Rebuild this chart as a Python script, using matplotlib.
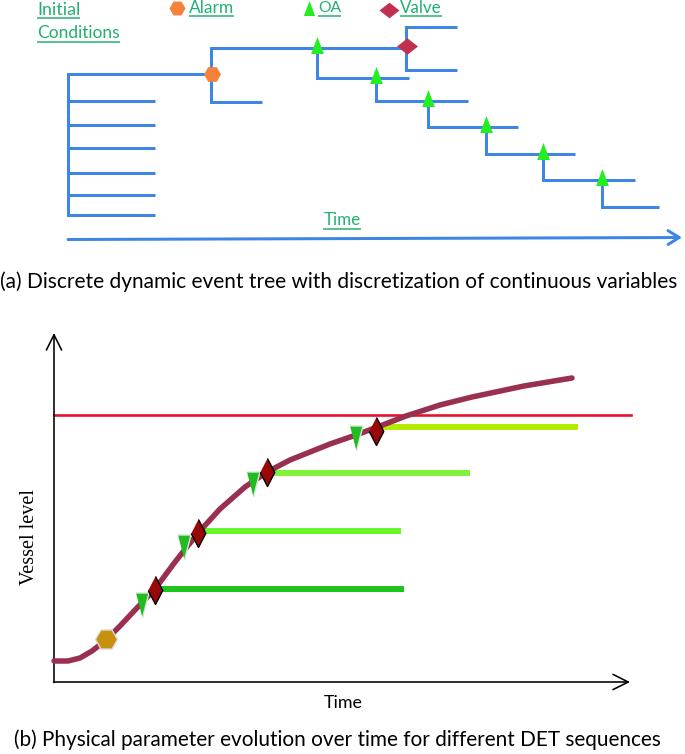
import matplotlib
matplotlib.use("Agg")
import matplotlib.pyplot as plt
import numpy as np

W, H, DPI = 685, 754, 100
PX = 72.0 / DPI  # points per pixel

# ---------------- data (schematic coordinates, pixels) ----------------
# (a) Discrete dynamic event tree
tree_h = [  # (x_start, x_end, level)
    (68, 155, 101), (68, 155, 125), (68, 155, 148), (68, 155, 173),
    (68, 155, 195), (68, 155, 215), (68, 211, 74),
    (211, 406, 48), (211, 262, 102), (317, 409, 78),
    (406, 457, 27), (406, 457, 70), (376, 468, 101),
    (428, 518, 127), (486, 575, 154), (543, 635, 180), (602, 659, 207),
]
tree_v = [  # (x, level_top, level_bottom)
    (68, 74, 215), (211, 48, 102), (317, 48, 78), (406, 27, 70),
    (376, 78, 101), (428, 101, 127), (486, 127, 154), (543, 154, 180),
    (602, 180, 207),
]
alarm_pt = (212, 74)
valve_pt = (407, 46)
oa_x = [317, 376, 428, 486, 543, 602]
oa_y = [48, 78, 101, 127, 154, 180]

legend_items = ["Initial", "Conditions", "Alarm", "OA", "Valve"]

# (b) Vessel level evolution
curve_t = [54, 68, 80, 92, 106, 120, 135, 155, 175, 198, 220, 245, 267, 290,
           310, 330, 356, 380, 406, 440, 472, 524, 572]
curve_lvl = [661, 661, 658, 651, 640, 626, 610, 589, 562, 533, 509, 487, 472,
             460, 452, 444, 435, 426, 416, 405, 397, 386, 378]
threshold_lvl = 415
alarm_b = (106, 639)
tri_t = [142, 184, 253, 356]
tri_lvl = [605, 547, 484, 438]
dia_t = [155, 198, 267, 376]
dia_lvl = [590, 533, 472, 431]
seq_start = [155, 198, 267, 376]
seq_end = [404, 401, 470, 578]
seq_lvl = [589, 531, 473, 427]
seq_colors = ["#1CC41C", "#6AF52A", "#80F23C", "#B4EB00"]

caption_a = "(a) Discrete dynamic event tree with discretization of continuous variables"
caption_b = "(b) Physical parameter evolution over time for different DET sequences"

# ---------------- figure ----------------
fig = plt.figure(figsize=(W / DPI, H / DPI), dpi=DPI)
ax = fig.add_axes([0, 0, 1, 1])
ax.set_xlim(0, W)
ax.set_ylim(H, 0)
ax.axis("off")

SANS = ["Lato", "DejaVu Sans"]
BLUE = "#3D86E6"
TXTGREEN = "#22B070"
renderer = fig.canvas.get_renderer()


def fit_text(x, y, s, width_px, ha="left", color="black", family=SANS, base=12, **kw):
    t = ax.text(x, y, s, ha=ha, va="center", color=color, family=family,
                fontsize=base, **kw)
    bb = t.get_window_extent(renderer)
    t.set_fontsize(base * width_px / bb.width)
    return t


def underline(t, y, color):
    bb = t.get_window_extent(renderer)
    inv = ax.transData.inverted()
    (x0, _), (x1, _) = inv.transform([(bb.x0, bb.y0), (bb.x1, bb.y0)])
    ax.plot([x0, x1], [y, y], color=color, lw=1.5 * PX, solid_capstyle="butt")


# --- (a) tree ---
for xs, xe, yl in tree_h:
    ax.plot([xs, xe], [yl, yl], color=BLUE, lw=3 * PX, solid_capstyle="butt", zorder=2)
for xv, y0, y1 in tree_v:
    ax.plot([xv, xv], [y0, y1], color=BLUE, lw=3 * PX, solid_capstyle="projecting", zorder=2)

tri_up = [(-0.75, -1), (0.75, -1), (0, 1)]
dia_wide = [(-1, 0), (0, 0.78), (1, 0), (0, -0.78)]
ax.plot(oa_x, np.array(oa_y) - 3, ls="none", marker=tri_up, ms=17 * PX,
        color="#22EE22", mew=0, zorder=4)
ax.plot(*alarm_pt, marker="H", ms=17 * PX, color="#F5823A", mew=0, zorder=4)
ax.plot(*valve_pt, marker=dia_wide, ms=21 * PX, color="#C2304F", mew=0, zorder=4)

# legend
ax.plot(177, 8, marker="H", ms=16 * PX, color="#F5823A", mew=0)
ax.plot(309, 8, marker=tri_up, ms=15 * PX, color="#22EE22", mew=0)
ax.plot(389, 10, marker=dia_wide, ms=20 * PX, color="#C2304F", mew=0)

t = fit_text(37, 10, legend_items[0], 43, color=TXTGREEN)
underline(t, 18, TXTGREEN)
t = fit_text(37, 33, legend_items[1], 82, color=TXTGREEN)
underline(t, 42, TXTGREEN)
t = fit_text(189, 8, legend_items[2], 45, color=TXTGREEN)
underline(t, 16, TXTGREEN)
t = fit_text(318, 8, legend_items[3], 23, color=TXTGREEN)
underline(t, 16, TXTGREEN)
t = fit_text(400, 8, legend_items[4], 42, color=TXTGREEN)
underline(t, 16, TXTGREEN)

t = fit_text(342, 220, "Time", 37, ha="center", color=TXTGREEN)
underline(t, 229, TXTGREEN)
ax.annotate("", xy=(682, 237.5), xytext=(68, 239.5),
            arrowprops=dict(arrowstyle="->,head_length=8,head_width=5",
                            mutation_scale=1, color=BLUE, lw=3 * PX,
                            shrinkA=0, shrinkB=0))

fit_text(338.5, 282, caption_a, 677, ha="center")

# --- (b) vessel level ---
ax.annotate("", xy=(54, 333), xytext=(54, 682.5),
            arrowprops=dict(arrowstyle="->,head_length=11,head_width=5.5",
                            mutation_scale=1, color="black", lw=1.6 * PX,
                            shrinkA=0, shrinkB=0))
ax.annotate("", xy=(630, 682), xytext=(53.5, 682),
            arrowprops=dict(arrowstyle="->,head_length=11,head_width=5.5",
                            mutation_scale=1, color="black", lw=1.6 * PX,
                            shrinkA=0, shrinkB=0))

ax.plot([54, 631], [threshold_lvl, threshold_lvl], color="#E8102A", lw=2.6 * PX, zorder=2)
for xs, xe, yl, c in zip(seq_start, seq_end, seq_lvl, seq_colors):
    ax.plot([xs, xe], [yl, yl], color=c, lw=6 * PX, solid_capstyle="butt", zorder=2)

ax.plot(curve_t, curve_lvl, color="#9A3050", lw=5.5 * PX, solid_joinstyle="round",
        solid_capstyle="round", zorder=3)

tri_down = [(-0.52, 1), (0.52, 1), (0, -1)]
dia_tall = [(0, 1), (0.52, 0), (0, -1), (-0.52, 0)]
ax.plot(tri_t, tri_lvl, ls="none", marker=tri_down, ms=25 * PX, color="#22BB22",
        mec="#D5E8D5", mew=1.0, zorder=4)
ax.plot(dia_t, dia_lvl, ls="none", marker=dia_tall, ms=28 * PX, color="#990808",
        mec="black", mew=1.0, zorder=5)
ax.plot(*alarm_b, marker="H", ms=22 * PX, color="#C8900C", mec="#D5DCDC",
        mew=1.0, zorder=5)

ax.text(30, 537, "Vessel level", rotation=90, ha="center", va="center",
        family=["Liberation Serif", "DejaVu Serif"], fontsize=14.5)
fit_text(343, 703, "Time", 39, ha="center")
fit_text(337.5, 740, caption_b, 645, ha="center")

fig.savefig("out.png", dpi=DPI)
